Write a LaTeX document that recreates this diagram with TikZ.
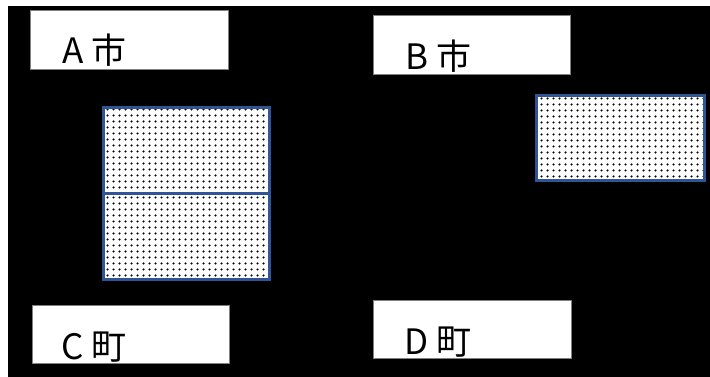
\documentclass[tikz,border=0pt]{standalone}
\usepackage{fontspec}
\setmainfont{Noto Sans CJK JP}
\usetikzlibrary{patterns.meta}
\definecolor{frameblue}{HTML}{2F5597}
\definecolor{boxgray}{HTML}{808080}
\tikzdeclarepattern{
  name=mydots,
  type=uncolored,
  bounding box={(0pt,0pt) and (5.5pt,5.5pt)},
  tile size={(5.5pt,5.5pt)},
  code={\fill (2.75pt,2.75pt) circle (1.3pt);}
}
\begin{document}
\begin{tikzpicture}[x=1pt,y=-1pt,
  labelbox/.style={draw=boxgray,line width=0.8pt,fill=white,inner sep=0pt,anchor=north west},
  labeltext/.style={inner sep=0pt,anchor=base west,font=\fontsize{35}{40}\selectfont},
  dotbox/.style={draw=frameblue,line width=2.6pt,inner sep=0pt,anchor=north west,
    preaction={fill=white},pattern={mydots},pattern color=black}]
  \useasboundingbox (0,0) rectangle (710,377);
  \fill[white] (0,0) rectangle (710,377);
  \fill[black] (8,6) rectangle (710,377);
  % label boxes
  \node[labelbox,minimum width=198pt,minimum height=59pt] (boxA) at (30,10) {};
  \node[labelbox,minimum width=197pt,minimum height=59pt] (boxB) at (373,15) {};
  \node[labelbox,minimum width=197pt,minimum height=58pt] (boxC) at (32,305) {};
  \node[labelbox,minimum width=198pt,minimum height=58pt] (boxD) at (373,300) {};
  \node[labeltext] (tA) at (62,64) {A 市};
  \node[labeltext] (tB) at (405,70) {B 市};
  \node[labeltext] (tC) at (61,359) {C 町};
  \node[labeltext] (tD) at (404,354) {D 町};
  % dotted areas
  \node[dotbox,minimum width=166pt,minimum height=86pt] (areaA1) at (102,106) {};
  \node[dotbox,minimum width=166pt,minimum height=86pt] (areaA2) at (102,192) {};
  \node[dotbox,minimum width=168pt,minimum height=85pt] (areaB) at (535,94) {};
\end{tikzpicture}
\end{document}
